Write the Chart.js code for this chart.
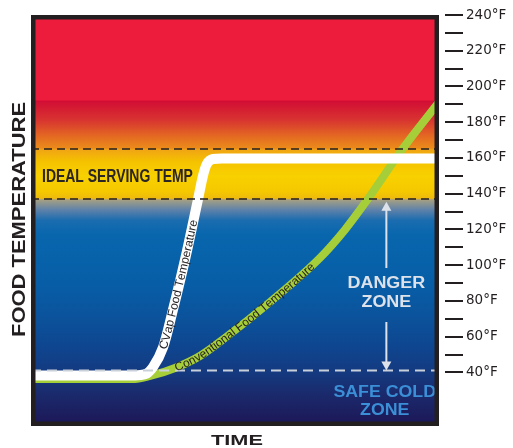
<!DOCTYPE html>
<html>
<head>
<meta charset="utf-8">
<script src="https://cdn.jsdelivr.net/npm/chart.js@4.4.0/dist/chart.umd.min.js"></script>
<style>
  html, body { margin: 0; padding: 0; background: #fff; }
</style>
</head>
<body>
<canvas id="chart" width="513" height="448"></canvas>
<script>
// time has no units on the original, so it runs 0..100 across the box
const cvapTime = [0, 25.5, 27.9, 29.9, 32.4, 34.6, 37.9, 40.9, 42.2, 43.1, 44.6, 46.8, 100];
const cvapTemp = [38.3, 38.3, 38.9, 43, 54.2, 73.2, 104.6, 136.5, 150.5, 156.6, 159.4, 159.7, 159.7];
const convTime = [0, 25.5, 29.2, 35.3, 41.4, 47.5, 58.6, 70.8, 77, 82.4, 90.9, 100];
const convTemp = [36.3, 36.3, 38, 42.5, 49.2, 59.2, 79.4, 104, 120, 136.5, 164.5, 191.3];

const labelledTemps = [40, 60, 80, 100, 120, 140, 160, 180, 200, 220, 240];
const servingHigh = 165, servingLow = 137, safeCold = 41, hotZone = 192;

const INK = '#231f20';
const SANS = "'Liberation Sans', Arial, sans-serif";

function pts(xs, ys) { return xs.map((x, i) => ({x: x, y: ys[i]})); }
function flat(v) { return [{x: 0, y: v}, {x: 100, y: v}]; }

// text helper: sx stretches the text horizontally (the original uses extended/condensed faces)
function word(ctx, text, x, y, size, color, sx, rot, align) {
  ctx.save();
  ctx.translate(x, y);
  if (rot) ctx.rotate(rot);
  ctx.scale(sx, 1);
  ctx.font = 'bold ' + size + 'px ' + SANS;
  ctx.fillStyle = color;
  ctx.textAlign = align || 'center';
  ctx.textBaseline = 'alphabetic';
  ctx.fillText(text, 0, size * 0.358);
  ctx.restore();
}

// write text along a drawn line, following its bezier path
function textOnLine(chart, index, text, startX, font, color) {
  const ctx = chart.ctx;
  const els = chart.getDatasetMeta(index).data;
  const path = [];
  for (let i = 0; i < els.length - 1; i++) {
    const p0 = els[i], p1 = els[i + 1];
    const c1x = p0.cp2x ?? p0.x, c1y = p0.cp2y ?? p0.y;
    const c2x = p1.cp1x ?? p1.x, c2y = p1.cp1y ?? p1.y;
    for (let k = 0; k < 30; k++) {
      const t = k / 30, u = 1 - t;
      path.push({
        x: u*u*u*p0.x + 3*u*u*t*c1x + 3*u*t*t*c2x + t*t*t*p1.x,
        y: u*u*u*p0.y + 3*u*u*t*c1y + 3*u*t*t*c2y + t*t*t*p1.y
      });
    }
  }
  path.push({x: els[els.length - 1].x, y: els[els.length - 1].y});
  const len = [0];
  for (let i = 1; i < path.length; i++) {
    len.push(len[i - 1] + Math.hypot(path[i].x - path[i - 1].x, path[i].y - path[i - 1].y));
  }
  const at = (s) => {
    let i = 1;
    while (i < path.length - 1 && len[i] < s) i++;
    const a = path[i - 1], b = path[i];
    const f = (s - len[i - 1]) / ((len[i] - len[i - 1]) || 1);
    return {x: a.x + (b.x - a.x) * f, y: a.y + (b.y - a.y) * f, r: Math.atan2(b.y - a.y, b.x - a.x)};
  };
  const x0 = chart.scales.x.getPixelForValue(startX);
  let s = 0;
  for (let i = 0; i < path.length; i++) { if (path[i].x >= x0) { s = len[i]; break; } }
  ctx.save();
  ctx.font = font;
  ctx.fillStyle = color;
  ctx.textAlign = 'center';
  ctx.textBaseline = 'middle';
  for (const ch of text) {
    const w = ctx.measureText(ch).width;
    const p = at(s + w / 2);
    ctx.save();
    ctx.translate(p.x, p.y);
    ctx.rotate(p.r);
    ctx.fillText(ch, 0, 0.5);
    ctx.restore();
    s += w;
  }
  ctx.restore();
}

function arrow(ctx, x, yFrom, yTo, color) {
  const dir = yTo < yFrom ? -1 : 1;
  ctx.save();
  ctx.strokeStyle = color;
  ctx.fillStyle = color;
  ctx.lineWidth = 2;
  ctx.beginPath();
  ctx.moveTo(x, yFrom);
  ctx.lineTo(x, yTo - dir * 7);
  ctx.stroke();
  ctx.beginPath();
  ctx.moveTo(x, yTo);
  ctx.lineTo(x - 5, yTo - dir * 9);
  ctx.lineTo(x + 5, yTo - dir * 9);
  ctx.closePath();
  ctx.fill();
  ctx.restore();
}

const zones = {
  id: 'zones',
  beforeDatasetsDraw(chart) {
    const {ctx, chartArea: a, scales: {y}} = chart;
    const g = ctx.createLinearGradient(0, a.top, 0, a.bottom);
    const stop = (v, c) => {
      const f = (y.getPixelForValue(v) - a.top) / (a.bottom - a.top);
      g.addColorStop(Math.min(1, Math.max(0, f)), c);
    };
    stop(240, '#ed1c3c');
    stop(hotZone + 0.3, '#ed1c3c');
    stop(hotZone, '#d20c35');
    stop(181, '#d83530');
    stop(172, '#e46a22');
    stop(servingHigh + 0.4, '#eb8c1a');
    stop(servingHigh - 0.4, '#f0a414');
    stop(158, '#f5c200');
    stop(150, '#f8d100');
    stop(141, '#f5c800');
    stop(servingLow + 0.4, '#eeb90e');
    stop(servingLow - 0.4, '#a6a082');
    stop(131, '#5f82aa');
    stop(125, '#1a6caf');
    stop(117, '#0866ad');
    stop(90, '#075ea7');
    stop(70, '#0b529b');
    stop(55, '#0e4690');
    stop(40, '#143a80');
    stop(28, '#1a2a6c');
    stop(10, '#1d1656');
    ctx.save();
    ctx.fillStyle = g;
    ctx.fillRect(a.left, a.top, a.width, a.height);
    ctx.restore();
  },
  afterDatasetsDraw(chart) {
    const {ctx, chartArea: a, scales: {x, y}} = chart;
    textOnLine(chart, 3, 'CVap Food Temperature', 32.2, '12px ' + SANS, INK);
    textOnLine(chart, 4, 'Conventional Food Temperature', 35.3, '12px ' + SANS, INK);

    word(ctx, 'IDEAL SERVING TEMP', x.getPixelForValue(2.7), y.getPixelForValue(150), 18, '#2b2523', 0.775, 0, 'left');
    word(ctx, 'DANGER', x.getPixelForValue(87.1), y.getPixelForValue(90.6), 16, '#dde2ea', 1.12);
    word(ctx, 'ZONE', x.getPixelForValue(87.1), y.getPixelForValue(79.6), 16, '#dde2ea', 1.12);
    word(ctx, 'SAFE COLD', x.getPixelForValue(86.7), y.getPixelForValue(29.6), 16, '#3b8fd6', 1.11);
    word(ctx, 'ZONE', x.getPixelForValue(86.7), y.getPixelForValue(19.2), 16, '#3b8fd6', 1.11);

    const ax = x.getPixelForValue(87.1);
    arrow(ctx, ax, y.getPixelForValue(98.4), y.getPixelForValue(135.5), '#dde2ea');
    arrow(ctx, ax, y.getPixelForValue(68.2), y.getPixelForValue(safeCold), '#dde2ea');

    ctx.save();
    ctx.strokeStyle = INK;
    ctx.lineWidth = 4.5;
    ctx.strokeRect(a.left + 2.25, a.top + 2.25, a.width - 4.5, a.height - 4.5);
    ctx.restore();
  },
  afterDraw(chart) {
    const {ctx, chartArea: a, scales: {y}} = chart;
    ctx.save();
    ctx.strokeStyle = INK;
    ctx.lineWidth = 2;
    y.ticks.forEach(t => {
      const py = Math.round(y.getPixelForValue(t.value));
      ctx.beginPath();
      ctx.moveTo(a.right + 6, py);
      ctx.lineTo(a.right + 24, py);
      ctx.stroke();
    });
    ctx.restore();
    word(ctx, 'FOOD TEMPERATURE', 18.5, (a.top + a.bottom) / 2 - 1, 18, INK, 1.22, -Math.PI / 2);
    word(ctx, 'TIME', (a.left + a.right) / 2 + 2, 440, 15, INK, 1.45);
  }
};

new Chart(document.getElementById('chart'), {
  type: 'line',
  data: {
    datasets: [
      {label: 'ideal high', data: flat(servingHigh), borderColor: INK, borderWidth: 1.5, borderDash: [8, 5], order: 0},
      {label: 'ideal low', data: flat(servingLow), borderColor: INK, borderWidth: 1.5, borderDash: [8, 5], order: 0},
      {label: 'safe cold', data: flat(safeCold), borderColor: '#c9d0da', borderWidth: 2, borderDash: [10, 6], order: 0},
      {label: 'CVap Food Temperature', data: pts(cvapTime, cvapTemp), borderColor: '#ffffff', borderWidth: 10,
       cubicInterpolationMode: 'monotone', order: 1},
      {label: 'Conventional Food Temperature', data: pts(convTime, convTemp), borderColor: '#a6ce39', borderWidth: 8,
       cubicInterpolationMode: 'monotone', order: 2}
    ]
  },
  options: {
    responsive: false,
    animation: false,
    devicePixelRatio: 1,
    layout: {padding: {left: 31, top: 15, bottom: 22, right: 0}},
    elements: {point: {radius: 0, hoverRadius: 0}, line: {fill: false}},
    datasets: {line: {clip: 0}},
    plugins: {legend: {display: false}, tooltip: {enabled: false}},
    scales: {
      x: {type: 'linear', min: 0, max: 100, display: false},
      y: {
        type: 'linear', position: 'right', min: 10, max: 240,
        grid: {display: false, drawTicks: false},
        border: {display: false},
        ticks: {
          stepSize: 10, autoSkip: false, padding: 27, color: INK,
          font: {family: "'DejaVu Sans', sans-serif", size: 13.5},
          callback: v => labelledTemps.includes(v) ? v + '°F' : ''
        },
        afterBuildTicks: s => { s.ticks = s.ticks.filter(t => t.value >= 40); },
        // keep the label padding from pushing the plot box down
        afterFit: s => { s.width = 74; s.paddingTop = 0; s.paddingBottom = 0; }
      }
    }
  },
  plugins: [zones]
});
</script>
</body>
</html>
